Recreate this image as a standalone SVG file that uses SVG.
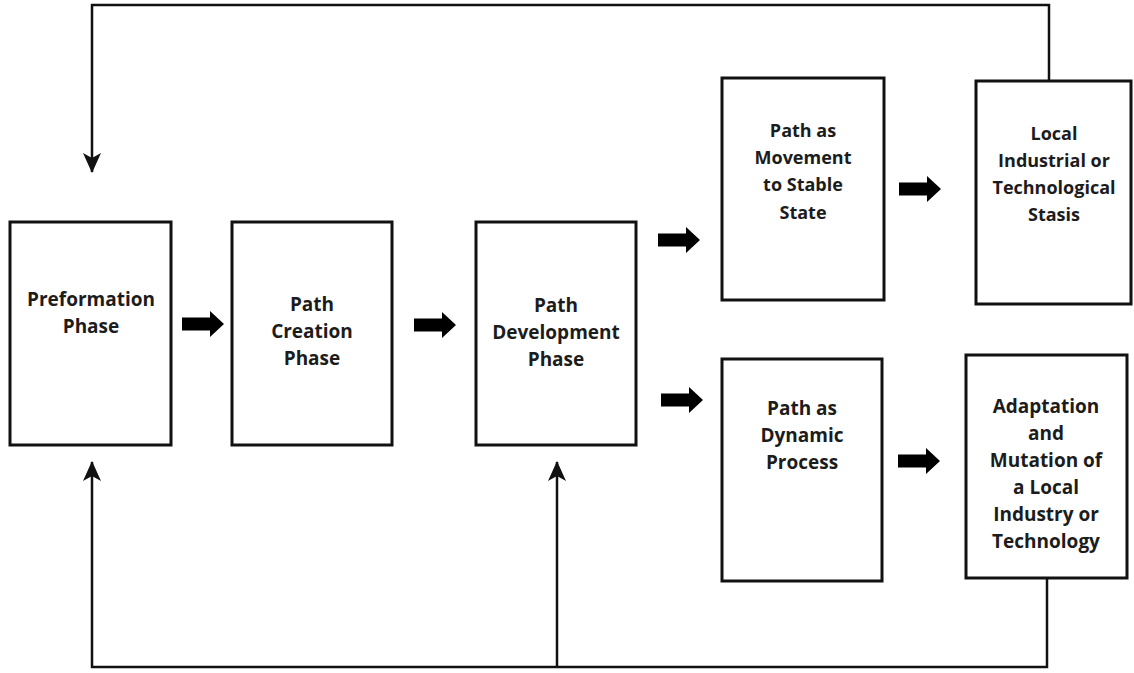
<svg xmlns="http://www.w3.org/2000/svg" width="1134" height="673" viewBox="0 0 1134 673">
<style>
.box{fill:#fff;stroke:#111;stroke-width:3}
.lbl{font-family:"Open Sans","Liberation Sans",sans-serif;font-weight:bold;font-size:19px;fill:#1c1c1c;text-anchor:middle}
.lbl2{font-size:18px}
.ln{fill:none;stroke:#111;stroke-width:2.5}
.blk{fill:#000}
</style>
<defs>
<marker id="ah" markerUnits="userSpaceOnUse" viewBox="0 0 22 20" markerWidth="22" markerHeight="20" refX="20" refY="10" orient="auto">
<path d="M1,1 L21,10 L1,19 L6,10 Z" fill="#111"/>
</marker>
<path id="barrow" d="M0,-6.5 H28 V-13 L42,0 L28,13 V6.5 H0 Z"/>
</defs>
<rect width="1134" height="673" fill="#fff"/>
<g id="connectors">
<polyline class="ln" points="1049,81 1049,5 92,5 92,172" marker-end="url(#ah)"/>
<polyline class="ln" points="1047,578 1047,667 92,667 92,462" marker-end="url(#ah)"/>
<line class="ln" x1="557" y1="667" x2="557" y2="462" marker-end="url(#ah)"/>
<use href="#barrow" class="blk" transform="translate(182,324)"/>
<use href="#barrow" class="blk" transform="translate(414,325)"/>
<use href="#barrow" class="blk" transform="translate(658,240)"/>
<use href="#barrow" class="blk" transform="translate(661,400)"/>
<use href="#barrow" class="blk" transform="translate(899,189)"/>
<use href="#barrow" class="blk" transform="translate(898,461)"/>
</g>
<g id="preformation">
<rect class="box" x="10" y="222" width="161" height="223"/>
<text class="lbl" x="91" y="306">Preformation</text>
<text class="lbl" x="91" y="333">Phase</text>
</g>
<g id="creation">
<rect class="box" x="232" y="222" width="160" height="223"/>
<text class="lbl" x="312" y="311">Path</text>
<text class="lbl" x="312" y="338">Creation</text>
<text class="lbl" x="312" y="365">Phase</text>
</g>
<g id="development">
<rect class="box" x="476" y="222" width="160" height="223"/>
<text class="lbl" x="556" y="312">Path</text>
<text class="lbl" x="556" y="339">Development</text>
<text class="lbl" x="556" y="366">Phase</text>
</g>
<g id="stable">
<rect class="box" x="722" y="78" width="162" height="222"/>
<text class="lbl lbl2" x="803" y="137">Path as</text>
<text class="lbl lbl2" x="803" y="164">Movement</text>
<text class="lbl lbl2" x="803" y="191">to Stable</text>
<text class="lbl lbl2" x="803" y="219">State</text>
</g>
<g id="stasis">
<rect class="box" x="976" y="81" width="155" height="223"/>
<text class="lbl lbl2" x="1054" y="140">Local</text>
<text class="lbl lbl2" x="1054" y="167">Industrial or</text>
<text class="lbl lbl2" x="1054" y="194">Technological</text>
<text class="lbl lbl2" x="1054" y="221">Stasis</text>
</g>
<g id="dynamic">
<rect class="box" x="722" y="359" width="160" height="222"/>
<text class="lbl" x="802" y="415">Path as</text>
<text class="lbl" x="802" y="442">Dynamic</text>
<text class="lbl" x="802" y="469">Process</text>
</g>
<g id="adaptation">
<rect class="box" x="966" y="355" width="161" height="223"/>
<text class="lbl" x="1046" y="413">Adaptation</text>
<text class="lbl" x="1046" y="440">and</text>
<text class="lbl" x="1046" y="467">Mutation of</text>
<text class="lbl" x="1046" y="494">a Local</text>
<text class="lbl" x="1046" y="521">Industry or</text>
<text class="lbl" x="1046" y="548">Technology</text>
</g>
</svg>
